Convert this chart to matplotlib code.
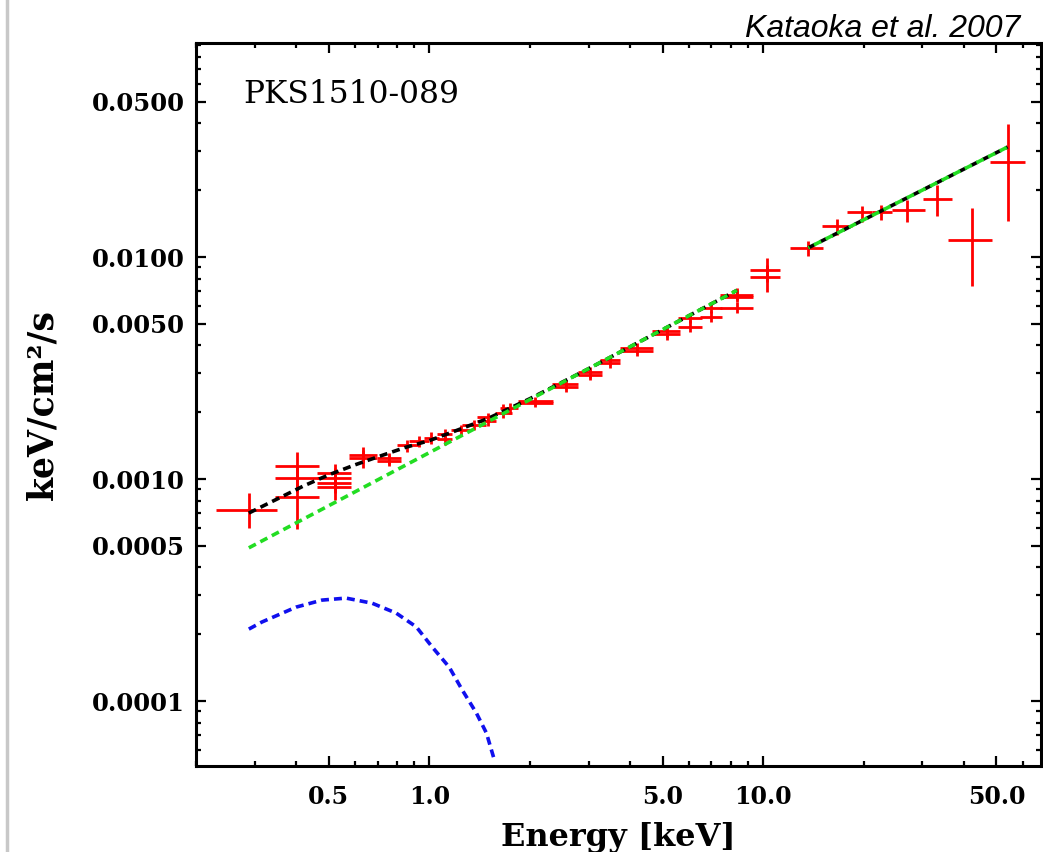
import numpy as np
import matplotlib
matplotlib.use("Agg")
import matplotlib.pyplot as plt
from matplotlib.ticker import FixedLocator, FixedFormatter, NullFormatter
from matplotlib.lines import Line2D

# ---------------- data ----------------
# Suzaku XIS spectrum: energy [keV], bin edges, flux, flux error limits
xis_e = [0.288, 0.402, 0.402, 0.402, 0.522, 0.522, 0.522, 0.522, 0.633, 0.633,
         0.758, 0.758, 0.859, 0.933, 1.014, 1.117, 1.117, 1.248, 1.365, 1.494,
         1.494, 1.657, 1.739, 2.067, 2.067, 2.561, 2.561, 3.023, 3.023, 3.472,
         3.472, 4.183, 4.183, 5.150, 5.150, 6.037, 6.037, 6.981, 6.981, 8.354,
         8.354, 8.354, 10.28, 10.28]
xis_elo = [0.229, 0.345, 0.345, 0.345, 0.461, 0.461, 0.461, 0.461, 0.575, 0.575,
           0.698, 0.698, 0.802, 0.871, 0.966, 1.057, 1.057, 1.165, 1.256, 1.394,
           1.394, 1.578, 1.623, 1.838, 1.838, 2.325, 2.325, 2.782, 2.782, 3.240,
           3.240, 3.721, 3.721, 4.642, 4.642, 5.556, 5.556, 6.468, 6.468, 7.430,
           7.430, 7.430, 9.141, 9.141]
xis_ehi = [0.350, 0.467, 0.467, 0.467, 0.583, 0.583, 0.583, 0.583, 0.698, 0.698,
           0.824, 0.824, 0.933, 1.000, 1.072, 1.173, 1.173, 1.337, 1.483, 1.589,
           1.589, 1.763, 1.838, 2.341, 2.341, 2.782, 2.782, 3.285, 3.285, 3.721,
           3.721, 4.674, 4.674, 5.635, 5.635, 6.558, 6.558, 7.534, 7.534, 9.333,
           9.333, 9.333, 11.25, 11.25]
xis_f = [7.25e-4, 1.144e-3, 1.010e-3, 8.30e-4, 1.064e-3, 1.010e-3, 9.59e-4, 9.20e-4,
         1.282e-3, 1.243e-3, 1.243e-3, 1.205e-3, 1.423e-3, 1.483e-3, 1.529e-3,
         1.594e-3, 1.514e-3, 1.662e-3, 1.750e-3, 1.824e-3, 1.902e-3, 1.983e-3,
         2.088e-3, 2.245e-3, 2.199e-3, 2.678e-3, 2.596e-3, 3.034e-3, 2.940e-3,
         3.330e-3, 3.436e-3, 3.891e-3, 3.772e-3, 4.640e-3, 4.498e-3, 5.311e-3,
         4.838e-3, 5.893e-3, 5.367e-3, 6.743e-3, 6.604e-3, 5.893e-3, 8.739e-3,
         8.128e-3]
xis_flo = [6.01e-4, 1.010e-3, 8.74e-4, 5.95e-4, 9.69e-4, 9.11e-4, 8.65e-4, 8.04e-4,
           1.181e-3, 1.121e-3, 1.168e-3, 1.144e-3, 1.323e-3, 1.393e-3, 1.438e-3,
           1.498e-3, 1.423e-3, 1.561e-3, 1.662e-3, 1.732e-3, 1.805e-3, 1.882e-3,
           1.963e-3, 2.154e-3, 2.110e-3, 2.542e-3, 2.465e-3, 2.851e-3, 2.792e-3,
           3.162e-3, 3.262e-3, 3.695e-3, 3.581e-3, 4.360e-3, 4.226e-3, 5.043e-3,
           4.592e-3, 5.594e-3, 5.095e-3, 6.402e-3, 6.270e-3, 5.594e-3, 7.718e-3,
           6.956e-3]
xis_fhi = [8.65e-4, 1.323e-3, 1.144e-3, 1.010e-3, 1.168e-3, 1.121e-3, 1.064e-3, 1.010e-3,
           1.393e-3, 1.351e-3, 1.309e-3, 1.282e-3, 1.498e-3, 1.561e-3, 1.628e-3,
           1.679e-3, 1.594e-3, 1.750e-3, 1.843e-3, 1.922e-3, 1.983e-3, 2.176e-3,
           2.199e-3, 2.340e-3, 2.292e-3, 2.792e-3, 2.706e-3, 3.194e-3, 3.097e-3,
           3.507e-3, 3.581e-3, 4.097e-3, 3.972e-3, 4.788e-3, 4.738e-3, 5.537e-3,
           5.202e-3, 6.206e-3, 5.713e-3, 7.252e-3, 7.103e-3, 6.270e-3, 9.897e-3,
           9.204e-3]

# Suzaku HXD/PIN spectrum
hxd_e = [13.65, 16.68, 19.83, 22.62, 27.06, 33.07, 42.13, 54.03]
hxd_elo = [12.05, 15.04, 17.88, 21.25, 24.40, 30.03, 35.69, 47.71]
hxd_ehi = [15.14, 18.51, 21.25, 24.40, 30.45, 36.69, 48.38, 60.77]
hxd_f = [0.01098, 0.01379, 0.01595, 0.01595, 0.01628, 0.01825, 0.01193, 0.02679]
hxd_flo = [0.0101, 0.01256, 0.01438, 0.01468, 0.01438, 0.0153, 0.0074, 0.01453]
hxd_fhi = [0.0118, 0.01483, 0.01697, 0.01715, 0.01806, 0.0211, 0.01662, 0.0397]

# model: total (black), power law (green), soft thermal component (blue)
tot_e1 = [0.288, 0.35, 0.42, 0.5, 0.6, 0.7, 0.85, 1.0, 1.2, 1.5, 2.0, 3.0, 5.0, 8.35]
tot_f1 = [7.03e-4, 8.13e-4, 9.31e-4, 1.045e-3, 1.16e-3, 1.258e-3, 1.39e-3, 1.49e-3,
          1.65e-3, 1.875e-3, 2.30e-3, 3.14e-3, 4.71e-3, 7.08e-3]
pl_e1 = [0.288, 8.35]
pl_f1 = [4.90e-4, 7.08e-3]
pl_e2 = [13.65, 54.0]
pl_f2 = [0.0110, 0.0313]
bb_e = [0.288, 0.315, 0.399, 0.477, 0.563, 0.674, 0.796, 0.914, 1.021, 1.148,
        1.256, 1.384, 1.483, 1.567]
bb_f = [2.11e-4, 2.27e-4, 2.65e-4, 2.85e-4, 2.91e-4, 2.76e-4, 2.49e-4, 2.16e-4,
        1.75e-4, 1.42e-4, 1.12e-4, 8.83e-5, 7.18e-5, 5.42e-5]

x_major = [0.5, 1.0, 5.0, 10.0, 50.0]
x_major_labels = ["0.5", "1.0", "5.0", "10.0", "50.0"]
y_major = [0.0001, 0.0005, 0.0010, 0.0050, 0.0100, 0.0500]
y_major_labels = ["0.0001", "0.0005", "0.0010", "0.0050", "0.0100", "0.0500"]

# ---------------- figure ----------------
SERIF = "DejaVu Serif"
fig = plt.figure(figsize=(10.43, 8.52), dpi=100)
ax = fig.add_axes([0.1879, 0.1009, 0.8102, 0.8486])
ax.set_xscale("log")
ax.set_yscale("log")
ax.set_xlim(0.2, 68)
ax.set_ylim(5.1e-5, 0.092)


def draw_data(e, elo, ehi, f, flo, fhi):
    e, elo, ehi = np.array(e), np.array(elo), np.array(ehi)
    f, flo, fhi = np.array(f), np.array(flo), np.array(fhi)
    ax.errorbar(e, f, xerr=[e - elo, ehi - e], yerr=[f - flo, fhi - f],
                fmt="none", ecolor="#ff0000", elinewidth=2.0, capsize=0, zorder=2)


draw_data(xis_e, xis_elo, xis_ehi, xis_f, xis_flo, xis_fhi)
draw_data(hxd_e, hxd_elo, hxd_ehi, hxd_f, hxd_flo, hxd_fhi)

LW = 2.6
dash = (2.2, 1.4)
ax.plot(tot_e1, tot_f1, color="black", lw=LW, ls=(0, dash), zorder=3)
ax.plot(pl_e2, pl_f2, color="black", lw=LW, ls=(0, dash), zorder=3)
ax.plot(pl_e1, pl_f1, color="#22dd22", lw=LW, ls=(0, dash), zorder=4)
ax.plot(pl_e2, pl_f2, color="#22dd22", lw=LW, ls=(1.8, dash), zorder=4)
ax.plot(bb_e, bb_f, color="#1010ee", lw=LW, ls=(0, dash), zorder=4)

# ticks
x_minor = [m * d for d in (0.1, 1, 10) for m in range(2, 10)]
x_minor = [v for v in x_minor if v not in x_major]
y_minor = [m * d for d in (1e-5, 1e-4, 1e-3, 1e-2) for m in range(2, 10)]
y_minor = [v for v in y_minor if not any(abs(v - t) / t < 1e-6 for t in y_major)]
ax.xaxis.set_major_locator(FixedLocator(x_major))
ax.xaxis.set_major_formatter(FixedFormatter(x_major_labels))
ax.xaxis.set_minor_locator(FixedLocator(x_minor))
ax.xaxis.set_minor_formatter(NullFormatter())
ax.yaxis.set_major_locator(FixedLocator(y_major))
ax.yaxis.set_major_formatter(FixedFormatter(y_major_labels))
ax.yaxis.set_minor_locator(FixedLocator(y_minor))
ax.yaxis.set_minor_formatter(NullFormatter())

ax.tick_params(which="both", direction="in", top=True, right=True,
               width=1.6, color="black")
ax.tick_params(which="major", length=7)
ax.tick_params(which="minor", length=3.5)
ax.tick_params(axis="y", which="major", pad=8)
ax.tick_params(axis="x", which="major", pad=14)
for lab in ax.get_xticklabels():
    lab.set_fontfamily(SERIF)
    lab.set_fontweight("bold")
    lab.set_fontsize(17)
for lab in ax.get_yticklabels():
    lab.set_fontfamily(SERIF)
    lab.set_fontweight("bold")
    lab.set_fontsize(17.5)
for sp in ax.spines.values():
    sp.set_linewidth(2.2)

ax.set_xlabel("Energy [keV]", fontfamily=SERIF, fontweight="bold", fontsize=23)
ax.set_ylabel("keV/cm²/s", fontfamily=SERIF, fontweight="bold", fontsize=25)
ax.xaxis.set_label_coords(0.5, -0.0775)
ax.yaxis.set_label_coords(-0.162, 0.5)

ax.text(0.0556, 0.917, "PKS1510-089", transform=ax.transAxes,
        fontfamily=SERIF, fontsize=22.5, ha="left", va="baseline")
fig.text(0.978, 0.9566, "Kataoka et al. 2007", fontfamily="Liberation Sans",
         style="italic", fontsize=23, ha="right", va="baseline")

fig.add_artist(Line2D([0.007, 0.007], [0, 1], transform=fig.transFigure,
                      color="#c8c8c8", lw=2.5))

fig.savefig("out.png", dpi=100)
